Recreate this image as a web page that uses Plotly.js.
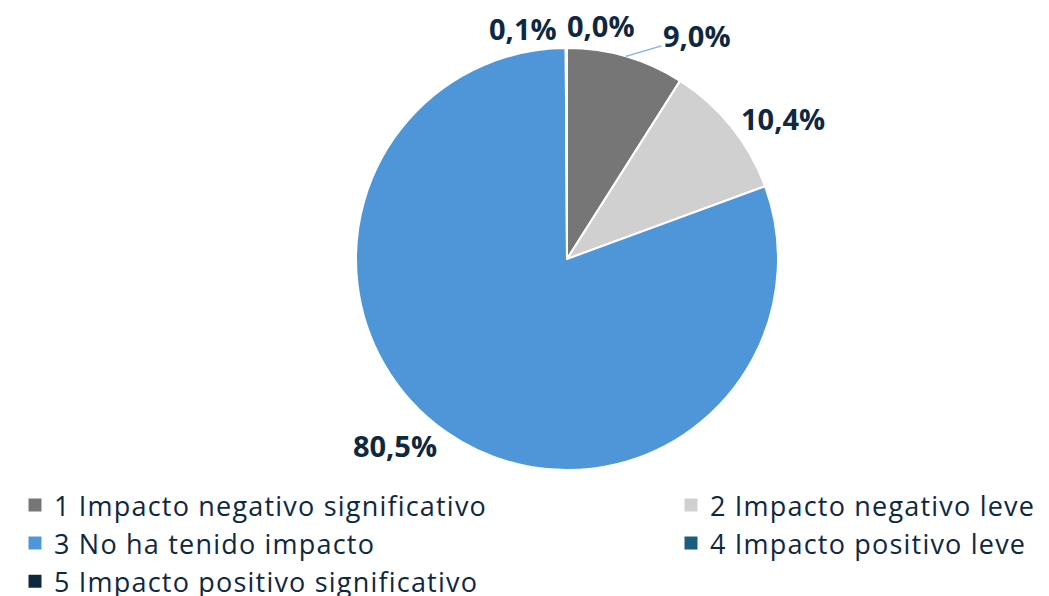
<!DOCTYPE html>
<html>
<head>
<meta charset="utf-8">
<script src="https://cdn.plot.ly/plotly-3.0.1.min.js"></script>
<style>
  html, body { margin: 0; padding: 0; background: #fff; overflow: hidden; }
  #plot { width: 1600px; height: 620px; }
  /* legend font in the original is a bit wider than Open Sans */
  #plot .legendtext { letter-spacing: 1.2px; }
  /* bigger legend squares */
  #plot path.legendpie { transform: translate(21px, 0) scale(1.3); }
</style>
</head>
<body>
<div id="plot"></div>
<script>
// Categories and shares (%)
const categories = [
    '1 Impacto negativo significativo',
    '2 Impacto negativo leve',
    '3 No ha tenido impacto',
    '4 Impacto positivo leve',
    '5 Impacto positivo significativo'
];
const shares = [9.0, 10.4, 80.5, 0.1, 0.0];
const sliceColors = ['#767676', '#d0d0d0', '#4f96d9', '#1b5e7f', '#0e2841'];

// Labels with comma decimals, like the original
const labelText = shares.map(v => v.toFixed(1).replace('.', ',') + '%');

// The first slice (leader line) and the empty slice get annotations instead
const textPositions = shares.map((v, i) => (i === 0 || v <= 0 ? 'none' : 'outside'));

const labelFont = { family: 'Open Sans', size: 29, color: '#0e2841', weight: 'bold' };

// Figure is larger than the window so the legend can lay out two wide columns
const figW = 1600, figH = 620;
const pieDomainX = [0.2225, 0.48625];
const pieDomainY = [0.2622, 1];
const plotH = figH - 48;

// Edge point at the middle of the first slice, for the leader line
const total = shares.reduce((a, b) => a + b, 0);
const midAngle = (shares[0] / 2 / total) * 2 * Math.PI;
const cx = (pieDomainX[0] + pieDomainX[1]) / 2;
const cy = (pieDomainY[0] + pieDomainY[1]) / 2;
const rPx = (pieDomainX[1] - pieDomainX[0]) * figW / 2;
const edgeX = cx + rPx * Math.sin(midAngle) / figW;
const edgeY = cy + rPx * Math.cos(midAngle) / plotH;

const trace = {
    type: 'pie',
    labels: categories,
    values: shares,
    text: labelText,
    textinfo: 'text',
    textposition: textPositions,
    sort: false,
    direction: 'clockwise',
    rotation: 0,
    marker: {
        colors: sliceColors,
        line: { color: '#ffffff', width: 2 }
    },
    outsidetextfont: labelFont,
    hoverinfo: 'label+text',
    domain: { x: pieDomainX, y: pieDomainY }
};

const layout = {
    width: figW,
    height: figH,
    margin: { t: 48, b: 0, l: 0, r: 0 },
    paper_bgcolor: '#ffffff',
    showlegend: true,
    legend: {
        orientation: 'h',
        x: 14 / figW,
        xanchor: 'left',
        y: 0.2431,
        yanchor: 'top',
        entrywidth: 611,
        entrywidthmode: 'pixels',
        traceorder: 'normal',
        font: { family: 'Open Sans', size: 27, color: '#0e2841' }
    },
    annotations: [
        {
            text: labelText[0],
            xref: 'paper', yref: 'paper',
            x: edgeX, y: edgeY,
            ax: 71, ay: -21,
            showarrow: true,
            arrowhead: 0,
            arrowwidth: 1.5,
            arrowcolor: '#7fb2e5',
            standoff: 0,
            font: labelFont
        },
        {
            text: labelText[4],
            xref: 'paper', yref: 'paper',
            x: 601 / figW, y: 1 + 22 / plotH,
            xanchor: 'center', yanchor: 'middle',
            showarrow: false,
            font: labelFont
        }
    ],
    font: { family: 'Open Sans', color: '#0e2841' }
};

const config = { displayModeBar: false, staticPlot: true };

Plotly.newPlot('plot', [trace], layout, config);
</script>
</body>
</html>
